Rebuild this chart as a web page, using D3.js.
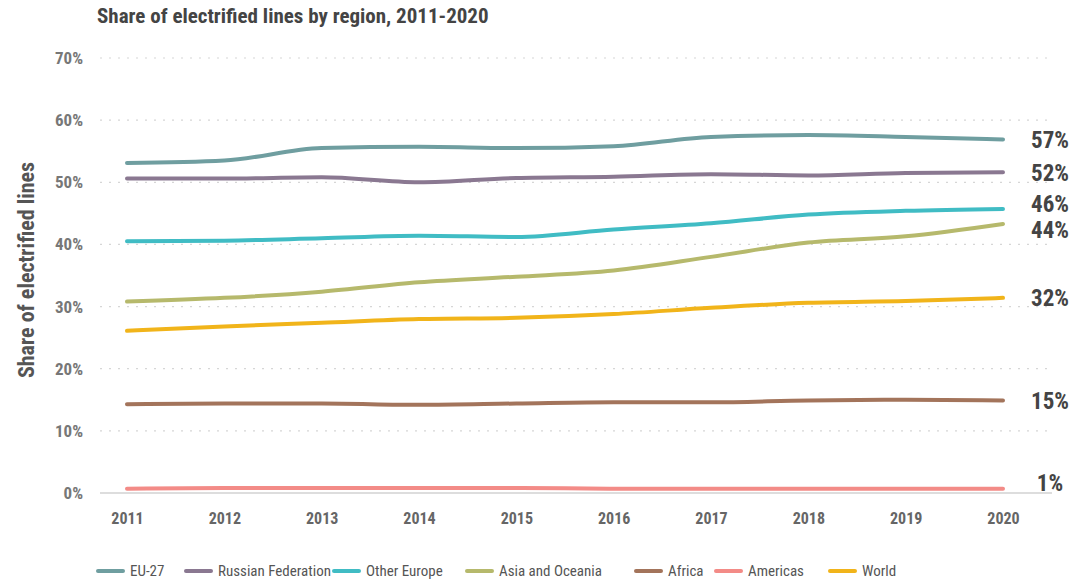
<!DOCTYPE html>
<html>
<head>
<meta charset="utf-8">
<script src="https://cdn.jsdelivr.net/npm/d3@7/dist/d3.min.js"></script>
<style>
  html, body { margin: 0; padding: 0; background: #fff; }
  svg { display: block; }
  text { font-family: "Roboto Condensed", "Liberation Sans Narrow", "DejaVu Sans Condensed", Roboto, sans-serif; font-stretch: condensed; }
</style>
</head>
<body>
<svg id="chart" width="1082" height="579"></svg>
<script>
// Years on the x axis
const years = [2011, 2012, 2013, 2014, 2015, 2016, 2017, 2018, 2019, 2020];

// Share of electrified lines (%) per region
const eu27 = [53.1, 53.5, 55.5, 55.7, 55.5, 55.8, 57.3, 57.6, 57.3, 56.9];
const russia = [50.6, 50.6, 50.8, 50.0, 50.7, 50.9, 51.3, 51.1, 51.5, 51.6];
const otherEurope = [40.5, 40.6, 41.0, 41.4, 41.2, 42.4, 43.4, 44.8, 45.4, 45.7];
const asiaOceania = [30.8, 31.4, 32.4, 33.9, 34.8, 35.8, 38.0, 40.3, 41.3, 43.3];
const africa = [14.3, 14.4, 14.4, 14.2, 14.4, 14.6, 14.6, 14.9, 15.0, 14.9];
const americas = [0.7, 0.8, 0.8, 0.8, 0.8, 0.7, 0.7, 0.7, 0.7, 0.7];
const world = [26.1, 26.8, 27.4, 28.0, 28.2, 28.8, 29.8, 30.6, 30.9, 31.4];

// End-of-line labels
const endLabels = ["57%", "52%", "46%", "44%", "15%", "1%", "32%"];

// Series names (legend order) and y-axis ticks
const seriesNames = ["EU-27", "Russian Federation", "Other Europe", "Asia and Oceania", "Africa", "Americas", "World"];
const yTicks = [0, 10, 20, 30, 40, 50, 60, 70];

const series = [eu27, russia, otherEurope, asiaOceania, africa, americas, world]
  .map((values, i) => ({ name: seriesNames[i], values, label: endLabels[i] }));

const colors = ["#6f9ea0", "#8a7891", "#40bcc4", "#b6b96c", "#a3745b", "#f38b87", "#f1b41a"];

const svg = d3.select("#chart");

const x = d3.scalePoint().domain(years).range([127, 1003]);
const y = d3.scaleLinear().domain([0, 70]).range([493, 58]);
const color = d3.scaleOrdinal().domain(seriesNames).range(colors);

// Title
svg.append("text")
  .attr("x", 97).attr("y", 23)
  .attr("font-size", 21).attr("font-weight", 700).attr("fill", "#444")
  .text("Share of electrified lines by region, 2011-2020");

// Dotted horizontal grid
svg.append("g")
  .selectAll("line")
  .data(yTicks.filter(d => d > 0))
  .join("line")
  .attr("x1", 100).attr("x2", 1052)
  .attr("y1", d => y(d)).attr("y2", d => y(d))
  .attr("stroke", "#d6d6d6").attr("stroke-width", 1.2)
  .attr("stroke-dasharray", "2,7");

// Baseline
svg.append("line")
  .attr("x1", 100).attr("x2", 1052)
  .attr("y1", y(0)).attr("y2", y(0))
  .attr("stroke", "#d2d2d2").attr("stroke-width", 1.5);

// Y axis
const yAxis = svg.append("g")
  .attr("transform", "translate(83,0)")
  .call(d3.axisLeft(y).tickValues(yTicks).tickFormat(d => d + "%").tickSize(0).tickPadding(0));
yAxis.select(".domain").remove();
yAxis.selectAll("text")
  .style("font-family", null)
  .style("font-size", "17px").style("font-weight", "700").style("fill", "#777");

// X axis
const xAxis = svg.append("g")
  .attr("transform", `translate(0,${y(0)})`)
  .call(d3.axisBottom(x).tickSize(0).tickPadding(20));
xAxis.select(".domain").remove();
xAxis.selectAll("text")
  .style("font-family", null)
  .style("font-size", "16px").style("font-weight", "700").style("fill", "#666");

// Y axis title
svg.append("text")
  .attr("transform", "translate(34,270) rotate(-90)")
  .attr("text-anchor", "middle")
  .attr("font-size", 22).attr("font-weight", 700).attr("fill", "#555")
  .text("Share of electrified lines");

// Lines
const line = d3.line()
  .x((d, i) => x(years[i]))
  .y(d => y(d))
  .curve(d3.curveMonotoneX);

svg.append("g")
  .selectAll("path")
  .data(series)
  .join("path")
  .attr("d", d => line(d.values))
  .attr("fill", "none")
  .attr("stroke", d => color(d.name))
  .attr("stroke-width", 4)
  .attr("stroke-linecap", "round");

// End labels, nudged apart where they would overlap
const labelPos = series.map(s => ({ s, y: Math.min(y(s.values[s.values.length - 1]), y(0) - 10) }))
  .sort((a, b) => a.y - b.y);
const minGap = 26;
for (let iter = 0; iter < 20; iter++) {
  for (let i = 1; i < labelPos.length; i++) {
    const gap = labelPos[i].y - labelPos[i - 1].y;
    if (gap < minGap) {
      const shift = (minGap - gap) / 2;
      labelPos[i].y += shift;
      labelPos[i - 1].y -= shift;
    }
  }
}
svg.append("g")
  .selectAll("text")
  .data(labelPos)
  .join("text")
  .attr("x", 1050)
  .attr("y", d => d.y)
  .attr("dy", "0.36em")
  .attr("text-anchor", "middle")
  .attr("font-size", 23).attr("font-weight", 700).attr("fill", "#444")
  .text(d => d.s.label);

// Legend
const legendX = [98, 186, 334, 467, 636, 716, 830];
const legend = svg.append("g")
  .selectAll("g")
  .data(seriesNames)
  .join("g")
  .attr("transform", (d, i) => `translate(${legendX[i]},571)`);
legend.append("line")
  .attr("x1", 0).attr("x2", 25)
  .attr("stroke", d => color(d))
  .attr("stroke-width", 4)
  .attr("stroke-linecap", "round");
legend.append("text")
  .attr("x", 32).attr("dy", "0.35em")
  .attr("font-size", 15).attr("fill", "#555")
  .text(d => d);
</script>
</body>
</html>
